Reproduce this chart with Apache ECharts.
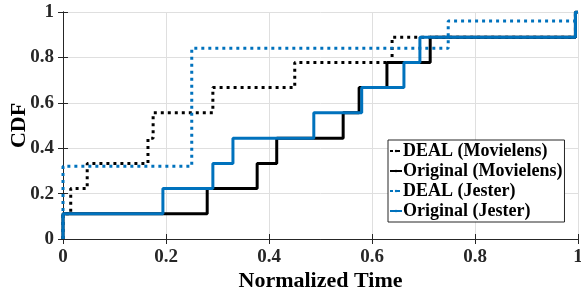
<!DOCTYPE html>
<html><head><meta charset="utf-8">
<script src="https://cdn.jsdelivr.net/npm/echarts@6/dist/echarts.min.js"></script>
<style>html,body{margin:0;padding:0;background:#fff}#c{width:581px;height:295px}</style>
</head><body><div id="c"></div>
<script>
const seriesNames = ['DEAL (Movielens)', 'Original (Movielens)', 'DEAL (Jester)', 'Original (Jester)'];
const dealMovX = [0, 0, 0.015, 0.047, 0.165, 0.175, 0.291, 0.45, 0.639, 0.995, 1];
const dealMovY = [0, 0.111, 0.222, 0.333, 0.444, 0.556, 0.667, 0.778, 0.889, 1, 1];
const origMovX = [0, 0, 0.28, 0.377, 0.415, 0.544, 0.575, 0.629, 0.713, 0.995, 1];
const origMovY = [0, 0.111, 0.222, 0.333, 0.444, 0.556, 0.667, 0.778, 0.889, 1, 1];
const dealJesX = [0, 0, 0.25, 0.748, 0.995, 1];
const dealJesY = [0, 0.32, 0.84, 0.96, 1, 1];
const origJesX = [0, 0, 0.194, 0.291, 0.33, 0.487, 0.58, 0.662, 0.693, 0.995, 1];
const origJesY = [0, 0.111, 0.222, 0.333, 0.444, 0.556, 0.667, 0.778, 0.889, 1, 1];

const BLUE = '#0072BD', BLACK = '#000000';
const FONT = '"Liberation Serif", "Times New Roman", serif';
function pts(xs, ys) { return xs.map((x, i) => [x, ys[i]]); }
const mk = (name, xs, ys, color, dotted) => ({
  name, type: 'line', step: 'end', data: pts(xs, ys), symbol: 'none',
  lineStyle: { color, width: 3, type: dotted ? [3, 4] : 'solid', cap: 'butt' },
  itemStyle: { color }, animation: false, z: 3
});
const axisCommon = {
  min: 0, max: 1, interval: 0.2,
  axisLine: { show: true, lineStyle: { color: '#262626', width: 1 } },
  axisTick: { show: true, inside: true, length: 5, lineStyle: { color: '#262626' } },
};
const chart = echarts.init(document.getElementById('c'), null, { renderer: 'canvas' });
chart.setOption({
  animation: false,
  grid: { left: 63, right: 3, top: 12, bottom: 56, containLabel: false, outerBoundsMode: 'none' },
  xAxis: [
    Object.assign({}, axisCommon, { type: 'value', position: 'bottom',
      name: 'Normalized Time', nameLocation: 'middle', nameGap: 31, nameMoveOverlap: false,
      nameTextStyle: { fontFamily: FONT, fontWeight: 'bold', fontSize: 22, color: '#000' },
      axisLabel: { fontFamily: FONT, fontWeight: 'bold', fontSize: 19, color: '#262626', margin: 9 },
      splitLine: { show: true, lineStyle: { color: '#dfdfdf', width: 1 } } }),
    Object.assign({}, axisCommon, { type: 'value', position: 'top',
      axisLabel: { show: false }, splitLine: { show: false } })
  ],
  yAxis: [
    Object.assign({}, axisCommon, { type: 'value', position: 'left',
      name: 'CDF', nameLocation: 'middle', nameGap: 33, nameRotate: 90, nameMoveOverlap: false,
      nameTextStyle: { fontFamily: FONT, fontWeight: 'bold', fontSize: 22, color: '#000' },
      axisLabel: { fontFamily: FONT, fontWeight: 'bold', fontSize: 19, color: '#262626', margin: 9 },
      splitLine: { show: true, lineStyle: { color: '#dfdfdf', width: 1 } } }),
    Object.assign({}, axisCommon, { type: 'value', position: 'right',
      axisLabel: { show: false }, splitLine: { show: false } })
  ],
  legend: {
    show: true, data: seriesNames, orient: 'vertical', left: 388, top: 140,
    itemWidth: 12, itemHeight: 3, itemGap: 2,
    backgroundColor: '#fff', borderColor: '#262626', borderWidth: 1,
    padding: [2, 2, 2, 1],
    textStyle: { fontFamily: FONT, fontWeight: 'bold', fontSize: 18, color: '#000', padding: [0, 0, 0, -4] }
  },
  series: [
    mk(seriesNames[0], dealMovX, dealMovY, BLACK, true),
    mk(seriesNames[1], origMovX, origMovY, BLACK, false),
    mk(seriesNames[2], dealJesX, dealJesY, BLUE, true),
    mk(seriesNames[3], origJesX, origJesY, BLUE, false)
  ]
});
</script></body></html>
